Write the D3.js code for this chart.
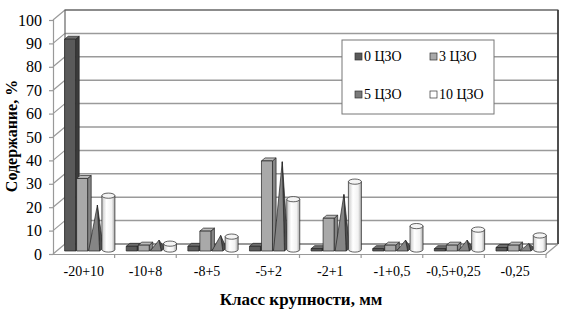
<!DOCTYPE html>
<html>
<head>
<meta charset="utf-8">
<script src="https://cdn.jsdelivr.net/npm/d3@7"></script>
<style>
  body { margin: 0; background: #fff; }
  svg { display: block; }
  svg text { font-family: "Liberation Serif", "Times New Roman", "DejaVu Serif", serif !important; fill: #000; }
</style>
</head>
<body>
<div id="chart"></div>
<script>
// data
const categories = ["-20+10", "-10+8", "-8+5", "-5+2", "-2+1", "-1+0,5", "-0,5+0,25", "-0,25"];
const seriesNames = ["0 ЦЗО", "3 ЦЗО", "5 ЦЗО", "10 ЦЗО"];
const s0 = [90.5, 2, 2, 2, 1, 1, 1, 1.5];
const s3 = [31, 2.5, 8.5, 38.5, 14, 2.5, 2.5, 2.5];
const s5 = [19, 4, 6, 37.5, 23.5, 4, 4, 2.5];
const s10 = [23, 2.5, 5.5, 21.5, 29, 10, 8.5, 6];
const yTicks = [0, 10, 20, 30, 40, 50, 60, 70, 80, 90, 100];

const W = 567, H = 317;
const DX = 12, DY = -10; // depth of the 3D box

const svg = d3.select("#chart").append("svg")
    .attr("width", W)
    .attr("height", H);

const x = d3.scaleBand().domain(categories).range([53, 546]);
const y = d3.scaleLinear().domain([0, 100]).range([254, 20]);

// projection: front-plane x, value, depth (0..1)
function P(px, v, z) {
    return [px + DX * z, y(v) + DY * z];
}
function pts(arr) {
    return arr.map(p => p.join(",")).join(" ");
}

const x0 = x.range()[0], x1 = x.range()[1];

// back wall
svg.append("polygon")
    .attr("points", pts([P(x0, 0, 1), P(x1, 0, 1), P(x1, 100, 1), P(x0, 100, 1)]))
    .attr("fill", "#fff")
    .attr("stroke", "none");

// gridlines: back wall + left wall
const grid = svg.append("g").attr("class", "grid");
yTicks.forEach(t => {
    let a = P(x0, t, 1), b = P(x1, t, 1), c = P(x0, t, 0);
    grid.append("line")
        .attr("x1", a[0]).attr("y1", a[1]).attr("x2", b[0]).attr("y2", b[1])
        .attr("stroke", t === 0 ? "#777" : "#9a9a9a").attr("stroke-width", 1.5);
    grid.append("line")
        .attr("x1", c[0]).attr("y1", c[1]).attr("x2", a[0]).attr("y2", a[1])
        .attr("stroke", "#9a9a9a").attr("stroke-width", 1.2);
});

// wall outline
let tl = P(x0, 100, 1), tr = P(x1, 100, 1), br = P(x1, 0, 1), bl = P(x0, 0, 1);
svg.append("polyline")
    .attr("points", pts([bl, tl, tr, br]))
    .attr("fill", "none").attr("stroke", "#666").attr("stroke-width", 1.2);
svg.append("line")
    .attr("x1", tr[0]).attr("y1", tr[1]).attr("x2", br[0]).attr("y2", br[1])
    .attr("stroke", "#333").attr("stroke-width", 1.5);

// floor edges
let fr = P(x1, 0, 0);
svg.append("line")
    .attr("x1", fr[0]).attr("y1", fr[1]).attr("x2", br[0]).attr("y2", br[1])
    .attr("stroke", "#9a9a9a").attr("stroke-width", 1.2);

// y axis
svg.append("g")
    .attr("class", "axis axis--y")
    .attr("transform", "translate(" + x0 + ",0)")
    .call(d3.axisLeft(y).tickValues(yTicks).tickSize(4).tickPadding(7))
    .call(g => g.attr("font-family", null))
    .call(g => g.selectAll("path, line").attr("stroke", "#999").attr("stroke-width", 1.2))
    .call(g => g.selectAll("text").attr("font-size", 16));

// x axis
svg.append("g")
    .attr("class", "axis axis--x")
    .attr("transform", "translate(0," + y(0) + ")")
    .call(d3.axisBottom(x).tickSize(0).tickPadding(12))
    .call(g => g.attr("font-family", null))
    .call(g => g.select(".domain").attr("stroke", "#999").attr("stroke-width", 1.2))
    .call(g => g.selectAll("text").attr("font-size", 14));
// category separator ticks
svg.append("g").selectAll("line")
    .data(categories)
    .join("line")
    .attr("x1", d => x(d) + x.bandwidth())
    .attr("x2", d => x(d) + x.bandwidth())
    .attr("y1", y(0)).attr("y2", y(0) + 4)
    .attr("stroke", "#999").attr("stroke-width", 1.2);

// defs for cylinder gradient
const defs = svg.append("defs");
const grad = defs.append("linearGradient").attr("id", "cyl").attr("x1", "0").attr("x2", "1");
grad.append("stop").attr("offset", "0%").attr("stop-color", "#c8c8c8");
grad.append("stop").attr("offset", "35%").attr("stop-color", "#ffffff");
grad.append("stop").attr("offset", "75%").attr("stop-color", "#f2f2f2");
grad.append("stop").attr("offset", "100%").attr("stop-color", "#a8a8a8");

const marks = svg.append("g").attr("class", "marks");
const zF = 0.3, zB = 0.6, slot = 12, bw = 11, pad = 8;

function drawBox(g, px, v, col) {
    let a = P(px, 0, zF), b = P(px + bw, 0, zF), c = P(px + bw, v, zF), d = P(px, v, zF);
    let cb = P(px + bw, v, zB), db = P(px, v, zB), bb = P(px + bw, 0, zB);
    g.append("polygon").attr("points", pts([b, bb, cb, c])).attr("fill", col[2])
        .attr("stroke", "#222").attr("stroke-width", 0.7);
    g.append("polygon").attr("points", pts([d, c, cb, db])).attr("fill", col[1])
        .attr("stroke", "#222").attr("stroke-width", 0.7);
    g.append("polygon").attr("points", pts([a, b, c, d])).attr("fill", col[0])
        .attr("stroke", "#222").attr("stroke-width", 0.7);
}

function drawCone(g, px, v) {
    let zm = (zF + zB) / 2;
    let apex = P(px + bw / 2 + 1.5, v, zm);
    let a = P(px, 0, zF), b = P(px + bw, 0, zF), bb = P(px + bw, 0, zB);
    g.append("polygon").attr("points", pts([b, bb, apex])).attr("fill", "#4f4f4f")
        .attr("stroke", "#222").attr("stroke-width", 0.7);
    g.append("polygon").attr("points", pts([a, b, apex])).attr("fill", "#858585")
        .attr("stroke", "#222").attr("stroke-width", 0.7);
}

function drawCyl(g, px, v) {
    let zm = (zF + zB) / 2;
    let cB = P(px + bw / 2 + 0.5, 0, zm), cT = P(px + bw / 2 + 0.5, v, zm);
    let rx = 6.5, ry = 2.6;
    g.append("path")
        .attr("d", `M${cB[0] - rx},${cT[1]} L${cB[0] - rx},${cB[1]} A${rx},${ry} 0 0 0 ${cB[0] + rx},${cB[1]} L${cB[0] + rx},${cT[1]} Z`)
        .attr("fill", "url(#cyl)").attr("stroke", "#222").attr("stroke-width", 0.7);
    g.append("ellipse")
        .attr("cx", cT[0]).attr("cy", cT[1]).attr("rx", rx).attr("ry", ry)
        .attr("fill", "#f4f4f4").attr("stroke", "#222").attr("stroke-width", 0.7);
}

const col0 = ["#5a5a5a", "#6e6e6e", "#3c3c3c"];
const col3 = ["#a9a9a9", "#bcbcbc", "#858585"];

categories.forEach((c, i) => {
    let g = marks.append("g");
    let bx = x(c) + pad;
    drawBox(g, bx, s0[i], col0);
    drawBox(g, bx + slot, s3[i], col3);
    drawCone(g, bx + slot * 2, s5[i]);
    drawCyl(g, bx + slot * 3, s10[i]);
});

// legend
const legend = svg.append("g").attr("class", "legend");
legend.append("rect")
    .attr("x", 342).attr("y", 40).attr("width", 152).attr("height", 74)
    .attr("fill", "#fff").attr("stroke", "#777").attr("stroke-width", 1);
const legCols = ["#5a5a5a", "#a9a9a9", "#7a7a7a", "#ffffff"];
seriesNames.forEach((n, i) => {
    let lx = 355 + (i % 2) * 75, ly = 58 + Math.floor(i / 2) * 38;
    legend.append("rect")
        .attr("x", lx).attr("y", ly - 5).attr("width", 7).attr("height", 7)
        .attr("fill", legCols[i]).attr("stroke", "#333").attr("stroke-width", 0.7);
    legend.append("text")
        .attr("x", lx + 9).attr("y", ly + 2.5)
        .attr("font-size", 14)
        .text(n);
});

// axis titles
svg.append("text")
    .attr("x", 301).attr("y", 305)
    .attr("text-anchor", "middle")
    .attr("font-size", 17).attr("font-weight", "bold")
    .text("Класс крупности, мм");

svg.append("text")
    .attr("transform", "translate(17,136) rotate(-90)")
    .attr("text-anchor", "middle")
    .attr("font-size", 16).attr("font-weight", "bold")
    .text("Содержание, %");
</script>
</body>
</html>
